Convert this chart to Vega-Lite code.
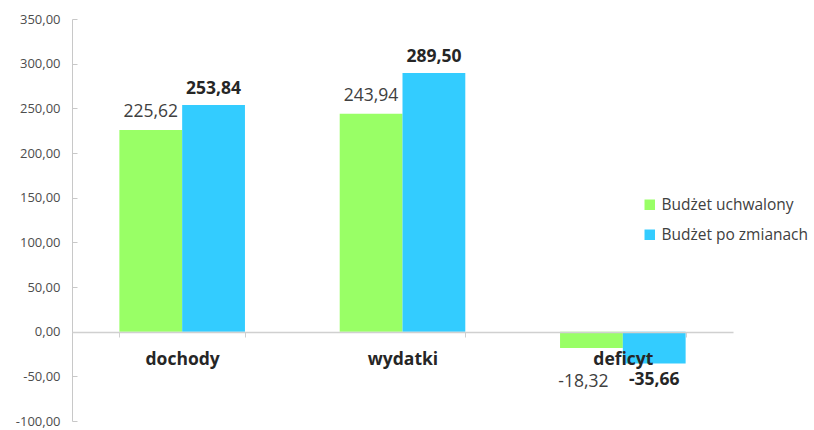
{
  "$schema": "https://vega.github.io/schema/vega-lite/v6.json",
  "width": 661,
  "height": 402,
  "autosize": "none",
  "padding": {"left": 72, "top": 19, "right": 81, "bottom": 9},
  "background": "white",
  "config": {
    "view": {"stroke": null},
    "font": "Open Sans",
    "locale": {"number": {"decimal": ",", "thousands": " ", "grouping": [3], "currency": ["", " zł"], "minus": "-"}}
  },
  "data": {
    "values": [
      {"cat": "dochody", "series": "Budżet uchwalony", "value": 225.62},
      {"cat": "dochody", "series": "Budżet po zmianach", "value": 253.84},
      {"cat": "wydatki", "series": "Budżet uchwalony", "value": 243.94},
      {"cat": "wydatki", "series": "Budżet po zmianach", "value": 289.50},
      {"cat": "deficyt", "series": "Budżet uchwalony", "value": -18.32},
      {"cat": "deficyt", "series": "Budżet po zmianach", "value": -35.66}
    ]
  },
  "transform": [
    {"calculate": "replace(replace(format(datum.value, '.2f'), '.', ','), '\u2212', '-')", "as": "label"}
  ],
  "encoding": {
    "x": {
      "field": "cat", "type": "nominal", "sort": ["dochody", "wydatki", "deficyt"],
      "scale": {"paddingInner": 0.43, "paddingOuter": 0.215},
      "axis": {
        "title": null, "orient": "bottom", "offset": -89, "labelAngle": 0,
        "labelFont": "Open Sans", "labelFontSize": 17.5, "labelFontWeight": "bold", "labelColor": "#262626",
        "labelPadding": 13, "tickBand": "extent", "tickSize": 5, "tickColor": "#d0d0d0",
        "domainColor": "#d0d0d0", "domainWidth": 1.5, "zindex": 1
      }
    },
    "xOffset": {"field": "series", "type": "nominal", "sort": ["Budżet uchwalony", "Budżet po zmianach"], "scale": {"paddingInner": 0, "paddingOuter": 0}},
    "y": {
      "field": "value", "type": "quantitative",
      "scale": {"domain": [-100, 350], "nice": false, "zero": false},
      "axis": {
        "title": null, "values": [-100, -50, 0, 50, 100, 150, 200, 250, 300, 350],
        "labelExpr": "replace(replace(format(datum.value, '.2f'), '.', ','), '\u2212', '-')",
        "grid": false, "labelFontSize": 13, "labelColor": "#4d4d4d", "labelFont": "Open Sans",
        "domainColor": "#c8c8c8", "tickColor": "#c8c8c8", "tickSize": -5, "labelPadding": 17
      }
    }
  },
  "layer": [
    {
      "mark": {"type": "bar"},
      "encoding": {
        "y2": {"datum": 0},
        "color": {
          "field": "series", "type": "nominal",
          "scale": {"domain": ["Budżet uchwalony", "Budżet po zmianach"], "range": ["#99FF66", "#33CCFF"]},
          "legend": {
            "title": null, "orient": "none", "legendX": 570, "legendY": 178,
            "symbolType": "square", "symbolSize": 110, "symbolStrokeWidth": 0,
            "labelFontSize": 15.5, "labelColor": "#404040", "labelFont": "Open Sans",
            "rowPadding": 13, "labelOffset": 4
          }
        }
      }
    },
    {
      "transform": [{"filter": "datum.value >= 0 && datum.series == 'Budżet uchwalony'"}],
      "mark": {"type": "text", "baseline": "bottom", "dy": -9, "fontSize": 17.5, "color": "#404040", "font": "Open Sans"},
      "encoding": {"text": {"field": "label", "type": "nominal"}}
    },
    {
      "transform": [{"filter": "datum.value >= 0 && datum.series == 'Budżet po zmianach'"}],
      "mark": {"type": "text", "baseline": "bottom", "dy": -7, "fontSize": 17.5, "fontWeight": "bold", "color": "#262626", "font": "Open Sans"},
      "encoding": {"text": {"field": "label", "type": "nominal"}}
    },
    {
      "transform": [{"filter": "datum.value < 0 && datum.series == 'Budżet uchwalony'"}],
      "mark": {"type": "text", "baseline": "middle", "dx": -8, "fontSize": 17.5, "color": "#404040", "font": "Open Sans"},
      "encoding": {"y": {"datum": -56}, "text": {"field": "label", "type": "nominal"}}
    },
    {
      "transform": [{"filter": "datum.value < 0 && datum.series == 'Budżet po zmianach'"}],
      "mark": {"type": "text", "baseline": "middle", "fontSize": 17.5, "fontWeight": "bold", "color": "#262626", "font": "Open Sans"},
      "encoding": {"y": {"datum": -54}, "text": {"field": "label", "type": "nominal"}}
    }
  ]
}
